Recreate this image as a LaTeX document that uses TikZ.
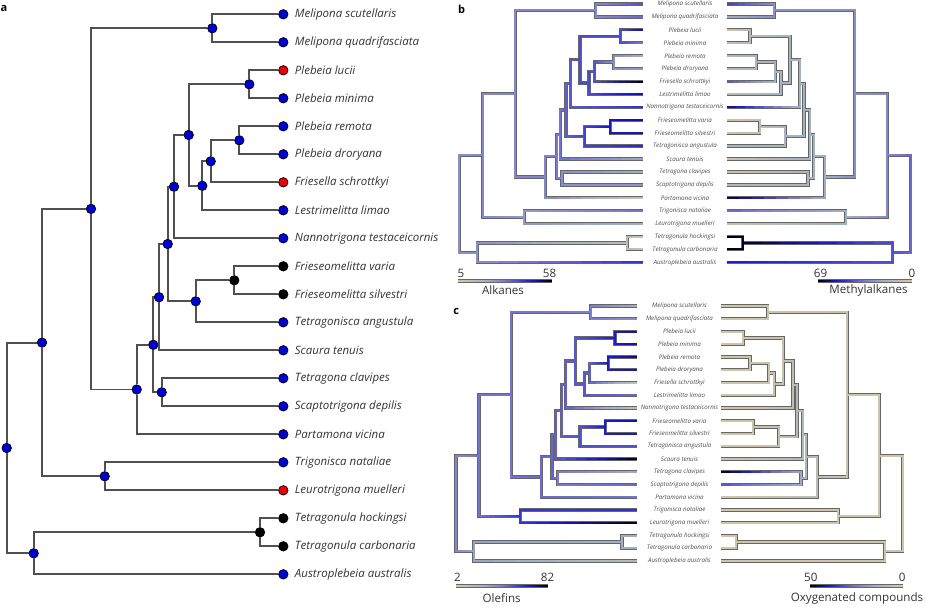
\documentclass[tikz,border=0pt]{standalone}
\usepackage{fontspec}
\setmainfont{Open Sans}
\usetikzlibrary{calc}

\definecolor{dotblue}{RGB}{0,0,210}
\definecolor{dotred}{RGB}{235,0,0}
\definecolor{linegrey}{RGB}{80,80,80}
\definecolor{ctan}{RGB}{212,200,165}
\definecolor{cgrey}{RGB}{160,176,194}
\definecolor{clav}{RGB}{122,122,208}
\definecolor{cblue}{RGB}{28,28,205}
\definecolor{cdark}{RGB}{0,0,18}

\tikzset{
  branch/.style={draw=linegrey, line width=1.9pt},
  tipdot/.style={circle, draw=black, line width=0.7pt, inner sep=0pt, minimum size=9.5pt, fill=#1},
  tipdot/.default=dotblue,
  tiplab/.style={font=\itshape\fontsize{11.5}{13}\selectfont, text=black!80, anchor=west},
  minilab/.style={font=\itshape\fontsize{6.2}{7}\selectfont, text=black!70, inner sep=0pt},
  brout/.style={line width=3.3pt, draw=black!60},
  brin/.style={line width=2pt},
  keynum/.style={font=\fontsize{11.6}{13}\selectfont, text=black!80, inner sep=0pt},
  panel/.style={font=\bfseries\fontsize{11}{12}\selectfont, inner sep=0pt},
}

% colour of a trait value between 0 and 1
\newcommand\trcol[1]{%
  \pgfmathsetmacro\vv{max(0,min(1,#1))}%
  \ifdim\vv pt<0.3pt
    \pgfmathsetmacro\pp{min(100,max(0,\vv/0.3*100))}\colorlet{trc}{cgrey!\pp!ctan}%
  \else\ifdim\vv pt<0.5pt
    \pgfmathsetmacro\pp{min(100,max(0,(\vv-0.3)/0.2*100))}\colorlet{trc}{clav!\pp!cgrey}%
  \else\ifdim\vv pt<0.78pt
    \pgfmathsetmacro\pp{min(100,max(0,(\vv-0.5)/0.28*100))}\colorlet{trc}{cblue!\pp!clav}%
  \else
    \pgfmathsetmacro\pp{min(100,max(0,(\vv-0.78)/0.22*100))}\colorlet{trc}{cdark!\pp!cblue}%
  \fi\fi\fi}

% tree of panel a: name/x/y/fill
\def\treepos{root/6.7/448/dotblue, nMT/42/342.6/dotblue, nTA/33.7/553.3/dotblue,
  nMain/91/208.9/dotblue, nTL/104.7/476.3/dotblue, nMel/212.3/28.3/dotblue,
  nCoreP/136.7/389.5/dotblue, nCore/153.3/344.8/dotblue, nPFS/159/297.2/dotblue,
  nTS/161.7/392.3/dotblue, nPF/167.7/244/dotblue, nPLN/174/186.7/dotblue,
  nPL/188.7/135/dotblue, nPleb/249.3/84.3/dotblue, nRDFL/202.3/185.8/dotblue,
  nRDF/210.7/161.3/dotblue, nRD/239.3/140.3/dotblue, nFT/195.7/301.3/dotblue,
  nFrie/234.3/280.3/black, nTet/260/532.3/black,
  t1/283.3/14.3/dotblue, t2/283.3/42.3/dotblue, t3/283.3/70.3/dotred, t4/283.3/98.3/dotblue,
  t5/283.3/126.3/dotblue, t6/283.3/154.3/dotblue, t7/283.3/182.3/dotred, t8/283.3/210.3/dotblue,
  t9/283.3/238.3/dotblue, t10/283.3/266.3/black, t11/283.3/294.3/black, t12/283.3/322.3/dotblue,
  t13/283.3/350.3/dotblue, t14/283.3/378.3/dotblue, t15/283.3/406.3/dotblue, t16/283.3/434.3/dotblue,
  t17/283.3/462.3/dotblue, t18/283.3/490.3/dotred, t19/283.3/518.3/black, t20/283.3/546.3/black,
  t21/283.3/574.3/dotblue}
\def\treeedges{root/nMT, root/nTA, nMT/nMain, nMT/nTL, nMain/nMel, nMain/nCoreP,
  nMel/t1, nMel/t2, nCoreP/nCore, nCoreP/t16, nCore/nPFS, nCore/nTS, nPFS/nPF, nPFS/t13,
  nPF/nPLN, nPF/nFT, nPLN/nPL, nPLN/t9, nPL/nPleb, nPL/nRDFL, nPleb/t3, nPleb/t4,
  nRDFL/nRDF, nRDFL/t8, nRDF/nRD, nRDF/t7, nRD/t5, nRD/t6, nFT/nFrie, nFT/t12,
  nFrie/t10, nFrie/t11, nTS/t14, nTS/t15, nTL/t17, nTL/t18, nTA/nTet, nTA/t21,
  nTet/t19, nTet/t20}
\def\taxa{1/Melipona scutellaris, 2/Melipona quadrifasciata, 3/Plebeia lucii,
  4/Plebeia minima, 5/Plebeia remota, 6/Plebeia droryana, 7/Friesella schrottkyi,
  8/Lestrimelitta limao, 9/Nannotrigona testaceicornis, 10/Frieseomelitta varia,
  11/Frieseomelitta silvestri, 12/Tetragonisca angustula, 13/Scaura tenuis,
  14/Tetragona clavipes, 15/Scaptotrigona depilis, 16/Partamona vicina,
  17/Trigonisca nataliae, 18/Leurotrigona muelleri, 19/Tetragonula hockingsi,
  20/Tetragonula carbonaria, 21/Austroplebeia australis}

% trait values at the nodes
\def\valsbL{root/0.42, nMT/0.45, nTA/0.42, nMain/0.45, nTL/0.38, nMel/0.45, nCoreP/0.45,
  nCore/0.5, nPFS/0.52, nTS/0.42, nPF/0.58, nPLN/0.6, nPL/0.64, nPleb/0.64, nRDFL/0.64,
  nRDF/0.62, nRD/0.42, nFT/0.66, nFrie/0.8, nTet/0.15,
  t1/0.62, t2/0.55, t3/0.85, t4/0.5, t5/0.3, t6/0.38, t7/1, t8/0.85, t9/0.72, t10/0.85,
  t11/0.82, t12/0.74, t13/0.32, t14/0.3, t15/0.4, t16/0.06, t17/0.52, t18/0.3, t19/0.05,
  t20/0.05, t21/0.72}
\def\valsbR{root/0.55, nMT/0.45, nTA/0.62, nMain/0.42, nTL/0.3, nMel/0.42, nCoreP/0.3,
  nCore/0.28, nPFS/0.28, nTS/0.22, nPF/0.28, nPLN/0.28, nPL/0.26, nPleb/0.18, nRDFL/0.26,
  nRDF/0.26, nRD/0.22, nFT/0.24, nFrie/0.12, nTet/0.98,
  t1/0.68, t2/0.3, t3/0.05, t4/0.12, t5/0.2, t6/0.2, t7/0.62, t8/0.16, t9/0.88, t10/0.05,
  t11/0.06, t12/0.25, t13/0.06, t14/0.06, t15/0.2, t16/0.97, t17/0.55, t18/0.08, t19/1,
  t20/1, t21/0.78}
\def\valscL{root/0.45, nMT/0.52, nTA/0.35, nMain/0.52, nTL/0.7, nMel/0.48, nCoreP/0.55,
  nCore/0.56, nPFS/0.58, nTS/0.5, nPF/0.58, nPLN/0.58, nPL/0.6, nPleb/0.78, nRDFL/0.6,
  nRDF/0.58, nRD/0.78, nFT/0.62, nFrie/0.78, nTet/0.3,
  t1/0.3, t2/0.42, t3/0.85, t4/0.85, t5/0.88, t6/0.82, t7/0.08, t8/0.55, t9/0.1, t10/0.85,
  t11/0.8, t12/0.62, t13/1, t14/0.3, t15/0.55, t16/0.52, t17/0.72, t18/1, t19/0.3,
  t20/0.3, t21/0.18}
\def\valscR{root/0.04, nMT/0.04, nTA/0.04, nMain/0.06, nTL/0.04, nMel/0.04, nCoreP/0.14,
  nCore/0.22, nPFS/0.2, nTS/0.32, nPF/0.16, nPLN/0.12, nPL/0.07, nPleb/0.04, nRDFL/0.07,
  nRDF/0.05, nRD/0.04, nFT/0.1, nFrie/0.05, nTet/0.04,
  t1/0.03, t2/0.03, t3/0.03, t4/0.03, t5/0.03, t6/0.03, t7/0.03, t8/0.03, t9/0.03, t10/0.03,
  t11/0.03, t12/0.03, t13/0.03, t14/1, t15/0.62, t16/0.03, t17/0.03, t18/0.03, t19/0.03,
  t20/0.03, t21/0.03}

% half tree: x0, xscale, y0, yscale, values
\newcommand\halftree[5]{%
  \foreach \nm/\vl in #5 {\expandafter\xdef\csname val\nm\endcsname{\vl}}
  \foreach \pa/\ch in \treeedges {
    \edef\axp{\csname px\pa\endcsname}\edef\ayp{\csname py\pa\endcsname}
    \edef\axc{\csname px\ch\endcsname}\edef\ayc{\csname py\ch\endcsname}
    \pgfmathsetmacro\xp{#1+(#2)*\axp}\pgfmathsetmacro\yp{#3+(#4)*\ayp}
    \pgfmathsetmacro\xc{#1+(#2)*\axc}\pgfmathsetmacro\yc{#3+(#4)*\ayc}
    \draw[brout] (\xp,\yp) |- (\xc,\yc);
  }
  \foreach \pa/\ch in \treeedges {
    \edef\axp{\csname px\pa\endcsname}\edef\ayp{\csname py\pa\endcsname}
    \edef\axc{\csname px\ch\endcsname}\edef\ayc{\csname py\ch\endcsname}
    \pgfmathsetmacro\xp{#1+(#2)*\axp}\pgfmathsetmacro\yp{#3+(#4)*\ayp}
    \pgfmathsetmacro\xc{#1+(#2)*\axc}\pgfmathsetmacro\yc{#3+(#4)*\ayc}
    \edef\vpa{\csname val\pa\endcsname}\edef\vch{\csname val\ch\endcsname}
    \trcol{\vpa}
    \draw[brin, draw=trc, line cap=rect] (\xp,\yp) -- (\xp,\yc);
    \foreach \k in {0,...,7} {
      \trcol{\vpa+(\vch-\vpa)*(\k+0.5)/8}
      \pgfmathsetmacro\xa{\xp+(\xc-\xp)*\k/8}
      \pgfmathsetmacro\xb{\xp+(\xc-\xp)*min(\k+1.6,8)/8}
      \draw[brin, draw=trc] (\xa,\yc) -- (\xb,\yc);
    }
  }}

% colour key: x1, x2, y, value
\newcommand\keybar[4]{%
  \draw[brout] (#1,#3) -- (#2,#3);
  \foreach \k in {0,...,39} {
    \trcol{#4}
    \pgfmathsetmacro\xa{#1+(#2-#1)*\k/40}
    \pgfmathsetmacro\xb{#1+(#2-#1)*min(\k+1.6,40)/40}
    \draw[brin, draw=trc] (\xa,#3) -- (\xb,#3);
  }}

\begin{document}
\begin{tikzpicture}[x=1pt, y=-1pt]
\useasboundingbox (0,0) rectangle (926,606);

%PANEL A
\foreach \nm/\x/\y/\f in \treepos {
  \expandafter\xdef\csname px\nm\endcsname{\x}
  \expandafter\xdef\csname py\nm\endcsname{\y}
  \node[tipdot=\f] (\nm) at (\x,\y) {};
}
\foreach \pa/\ch in \treeedges {\draw[branch] (\pa) |- (\ch);}
\foreach \i/\lab in \taxa {\node[tiplab] (la\i) at ([xshift=3pt]t\i.east) {\lab};}
\node[panel] (pa) at (4,8.5) {a};

%PANEL B
\halftree{454.86}{0.663}{-2.6}{0.4614}{\valsbL}
\halftree{915.14}{-0.663}{-2.6}{0.4614}{\valsbR}
\foreach \i/\lab in \taxa {\node[minilab] (lb\i) at (685,{4+12.92*(\i-1)}) {\lab};}
\node[panel] (pb) at (461.7,9) {b};
\keybar{458}{552}{281}{\k/39}
\keybar{818}{911.7}{281}{1-\k/39}
\node[keynum] (k5) at (461,273) {5};
\node[keynum] (k58) at (549.5,273) {58};
\node[keynum] (kalk) at (503,290.5) {Alkanes};
\node[keynum] (k69) at (820.5,273) {69};
\node[keynum] (k0b) at (912,273) {0};
\node[keynum] (kmeth) at (868.5,290.5) {Methylalkanes};

%PANEL C
\halftree{451.61}{0.6555}{299.49}{0.4554}{\valscL}
\halftree{906.9}{-0.6555}{299.49}{0.4554}{\valscR}
\foreach \i/\lab in \taxa {\node[minilab] (lc\i) at (679.5,{306+12.75*(\i-1)}) {\lab};}
\node[panel] (pc) at (456.3,311.5) {c};
\keybar{456}{548.3}{586}{\k/39}
\keybar{810}{903.3}{586}{1-\k/39}
\node[keynum] (k2) at (457.5,577.5) {2};
\node[keynum] (k82) at (547.5,577.5) {82};
\node[keynum] (kole) at (501.7,598) {Olefins};
\node[keynum] (k50) at (810.8,577.5) {50};
\node[keynum] (k0c) at (902.3,577.5) {0};
\node[keynum] (koxy) at (857,598) {Oxygenated compounds};
\end{tikzpicture}
\end{document}
